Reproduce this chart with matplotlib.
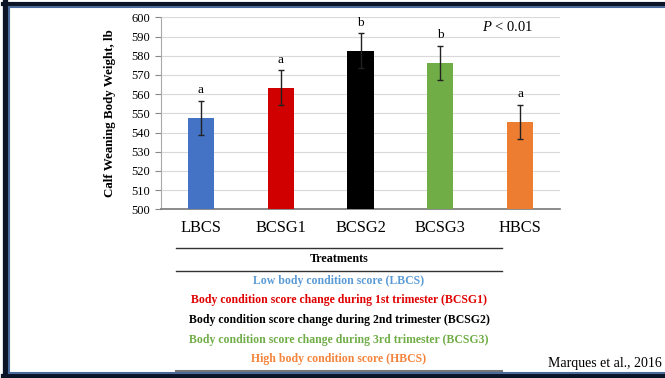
import numpy as np
import matplotlib.pyplot as plt
from matplotlib.lines import Line2D

plt.rcParams['font.family'] = ['Liberation Serif', 'DejaVu Serif']
plt.rcParams['mathtext.fontset'] = 'custom'
plt.rcParams['mathtext.it'] = 'Liberation Serif:italic'
plt.rcParams['mathtext.rm'] = 'Liberation Serif'

treatments = ['LBCS', 'BCSG1', 'BCSG2', 'BCSG3', 'HBCS']
weights = [547.6, 563.3, 582.6, 576.3, 545.6]
errors = [8.9, 9.0, 9.0, 8.8, 8.8]
letters = ['a', 'a', 'b', 'b', 'a']
colors = ['#4472C4', '#D00000', '#000000', '#70AD47', '#ED7D31']

legend_rows = ['Low body condition score (LBCS)',
               'Body condition score change during 1st trimester (BCSG1)',
               'Body condition score change during 2nd trimester (BCSG2)',
               'Body condition score change during 3rd trimester (BCSG3)',
               'High body condition score (HBCS)']
legend_colors = ['#5B9BD5', '#E00000', '#000000', '#70AD47', '#F4843C']

W, H = 665, 378
fig = plt.figure(figsize=(W / 100, H / 100), dpi=100)
ax = fig.add_axes([161 / W, (H - 209.3) / H, (560 - 161) / W, (209.3 - 17.3) / H])

x = np.arange(len(treatments))
ax.bar(x, [w - 500 for w in weights], bottom=500, width=0.33, color=colors, zorder=3)
ax.errorbar(x, weights, yerr=errors, fmt='none', ecolor='#222222', elinewidth=1,
            capsize=2, capthick=1, zorder=4)
for xi, w, e, l in zip(x, weights, errors, letters):
    ax.text(xi, w + e + 2.5, l, ha='center', va='bottom', fontsize=9.5)

ax.set_xlim(-0.5, len(treatments) - 0.5)
ax.set_ylim(500, 600)
ax.set_yticks(range(500, 601, 10))
ax.set_xticks(x)
ax.set_xticklabels(treatments, fontsize=11.8)
ax.tick_params(axis='x', length=0, pad=8)
ax.tick_params(axis='y', labelsize=9, length=4, color='#888888', pad=4)
ax.grid(axis='y', color='#D9D9D9', linewidth=0.8, zorder=0)
for s in ['top', 'right']:
    ax.spines[s].set_visible(False)
ax.spines['left'].set_color('#AAAAAA')
ax.spines['bottom'].set_color('#777777')
ax.spines['bottom'].set_linewidth(1.2)
ax.set_ylabel('Calf Weaning Body Weight, lb', fontsize=9.4, fontweight='bold', labelpad=11)
ax.text(0.87, 0.95, r'$\mathit{P}$ < 0.01', transform=ax.transAxes, ha='center', va='center',
        fontsize=10.5)

# table of treatments below the chart
def fx(px):
    return px / W

def fy(py):
    return (H - py) / H

for yy, c, lw in [(248.3, '#333333', 1.0), (270.7, '#333333', 1.0), (370.7, '#777777', 1.5)]:
    fig.add_artist(Line2D([fx(176), fx(502)], [fy(yy), fy(yy)], color=c, lw=lw))
fig.text(fx(339), fy(258.5), 'Treatments', ha='center', va='center', fontsize=8.7,
         fontweight='bold')
for i, (row, c) in enumerate(zip(legend_rows, legend_colors)):
    fig.text(fx(339), fy(280.7 + i * 19.6), row, ha='center', va='center', fontsize=8.5,
             fontweight='bold', color=c)

fig.text(fx(662), fy(363), 'Marques et al., 2016', ha='right', va='center', fontsize=10)

# slide frame: dark outer band, thin blue inner line (no right edge)
dark, blue = '#0B1426', '#4A6A9A'
fig.add_artist(Line2D([fx(5.5), fx(5.5)], [fy(2), fy(378)], color=dark, lw=3.8))
fig.add_artist(Line2D([fx(3), 1], [fy(4), fy(4)], color=dark, lw=3.0))
fig.add_artist(Line2D([fx(3), 1], [fy(376), fy(376)], color=dark, lw=3.8))
fig.add_artist(Line2D([fx(9), fx(9)], [fy(6.5), fy(372)], color=blue, lw=1.5))
fig.add_artist(Line2D([fx(9), 1], [fy(6.5), fy(6.5)], color=blue, lw=1.5))
fig.add_artist(Line2D([fx(9), 1], [fy(372.5), fy(372.5)], color=blue, lw=1.5))

fig.savefig('out.png', dpi=100)
